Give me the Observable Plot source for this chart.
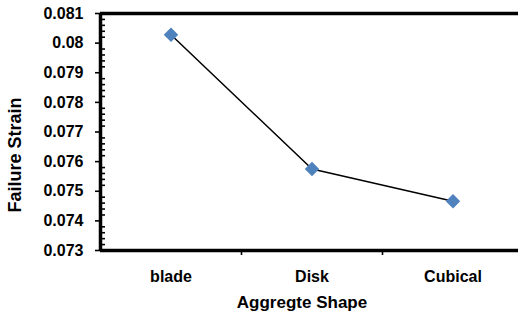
<!DOCTYPE html>
<html>
<head>
<meta charset="utf-8">
<script src="https://cdn.jsdelivr.net/npm/d3@7"></script>
<script src="https://cdn.jsdelivr.net/npm/@observablehq/plot@0.6"></script>
<style>
  html, body { margin: 0; padding: 0; background: #fff; overflow: hidden; }
  #chart svg { display: block; background: #fff; }
</style>
</head>
<body>
<div id="chart"></div>
<script>
const categories = ["blade", "Disk", "Cubical"];
const strain = [0.08028, 0.07575, 0.07466];
const yTicks = [0.073, 0.074, 0.075, 0.076, 0.077, 0.078, 0.079, 0.080, 0.081];
const yMinorStep = 0.0002;
const xTitle = "Aggregte Shape";
const yTitle = "Failure Strain";

const data = categories.map((c, i) => ({shape: c, pos: i + 1, strain: strain[i]}));
const boundaries = categories.slice(1).map((c, i) => i + 1.5);
const yMinor = d3.range(0, 41).map(k => +(yTicks[0] + k * yMinorStep).toFixed(4))
  .filter(v => !yTicks.some(t => Math.abs(t - v) < 1e-9));

const font = "'Liberation Sans', Arial, sans-serif";

const chart = Plot.plot({
  width: 518,
  height: 316,
  marginLeft: 100,
  marginRight: -5,
  marginTop: 13,
  marginBottom: 66,
  style: {fontFamily: font, background: "#fff", overflow: "hidden"},
  x: {domain: [0.5, 3.5]},
  y: {domain: [0.073, 0.081]},
  marks: [
    Plot.axisY(yMinor, {tickSize: -5, tickFormat: () => "", stroke: "#000", strokeWidth: 1.6, label: null}),
    Plot.axisY(yTicks, {
      tickSize: 5, tickPadding: 12, stroke: "#000", strokeWidth: 1.6,
      tickFormat: d => String(+d.toFixed(3)),
      fontSize: 16, fontWeight: "bold", fill: "#000", label: null
    }),
    Plot.axisX(data.map(d => d.pos), {
      tickSize: 0, tickPadding: 20,
      tickFormat: p => categories[p - 1],
      fontSize: 16, fontWeight: "bold", fill: "#000", label: null
    }),
    Plot.axisX(boundaries, {tickSize: 5, stroke: "#000", strokeWidth: 1.6, tickFormat: () => "", label: null}),
    Plot.ruleY([0.081, 0.073], {stroke: "#000", strokeWidth: 3.5}),
    Plot.ruleX([0.5], {stroke: "#000", strokeWidth: 3.5}),
    Plot.line(data, {x: "pos", y: "strain", stroke: "#000", strokeWidth: 1.5}),
    Plot.dot(data, {x: "pos", y: "strain", symbol: "diamond2", r: 6.5, fill: "#4F81BD", stroke: "none"}),
    Plot.text([xTitle], {
      frameAnchor: "bottom", dy: 52, dx: -10, lineAnchor: "middle",
      fontSize: 17, fontWeight: "bold", fill: "#000"
    }),
    Plot.text([yTitle], {
      frameAnchor: "left", dx: -85, dy: 23, rotate: -90, lineAnchor: "middle", textAnchor: "middle",
      fontSize: 18, fontWeight: "bold", fill: "#000"
    })
  ]
});
document.getElementById("chart").appendChild(chart);
</script>
</body>
</html>
